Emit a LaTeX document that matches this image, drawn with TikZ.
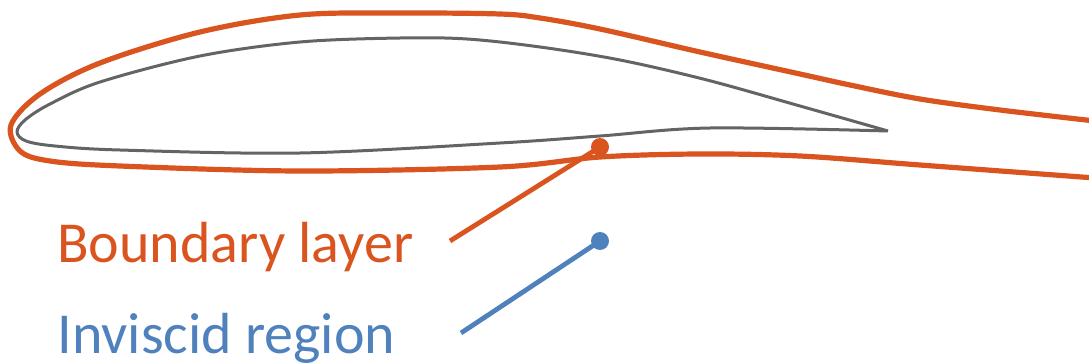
\documentclass[tikz,border=0pt]{standalone}
\usepackage{fontspec}
\setmainfont{Carlito}
\usepackage{tikz}
\usetikzlibrary{positioning}

\definecolor{blorange}{RGB}{217,84,30}
\definecolor{invblue}{RGB}{79,129,189}
\definecolor{foilgray}{RGB}{100,100,100}

\begin{document}
\begin{tikzpicture}[x=0.5pt, y=-0.5pt,
  foil/.style = {draw=foilgray, line width=1.5pt, line join=round},
  layer/.style = {draw=blorange, line width=2.6pt},
  label/.style = {anchor=base west, inner sep=0pt, font=\fontsize{29}{34}\selectfont},
  pin/.style = {circle, inner sep=0pt, minimum size=9pt}]
\useasboundingbox (0,0) rectangle (1089,364);

% the wing section
\draw[foil] plot[smooth, tension=0.55] coordinates {(888,131) (800,106) (707,80)
  (620,60) (540,47) (467,39) (400,38) (300,42) (200,56) (100,82) (50,104)
  (25,120) (17,132) (26,141) (55,146) (120,150) (300,153) (500,143) (600,136)
  (710,128) (888,131)};

% edge of the boundary layer and the wake behind it
\draw[layer] plot[smooth, tension=0.55] coordinates {(1095,121) (1000,110)
  (920,99) (850,85) (800,74) (700,52) (600,29) (540,18) (500,14) (400,13)
  (300,15) (200,32) (100,63) (40,94) (11,125) (20,151) (50,161) (120,166)
  (300,171) (500,167) (600,157) (700,154) (800,156) (920,165) (1095,178)};

% labels
\node[label, text=blorange] (bl-label) at (57,262) {Boundary layer};
\node[label, text=invblue] (inv-label) at (57,353) {Inviscid region};

\node[pin, fill=blorange] (bl-dot) at (600,147) {};
\node[pin, fill=invblue] (inv-dot) at (600,241) {};
\coordinate (bl-end) at (450,241);
\coordinate (inv-end) at (461,333);

% leaders
\draw[line width=2.4pt, blorange] (bl-end) -- (bl-dot.center);
\draw[line width=2.4pt, invblue] (inv-end) -- (inv-dot.center);
\end{tikzpicture}
\end{document}
